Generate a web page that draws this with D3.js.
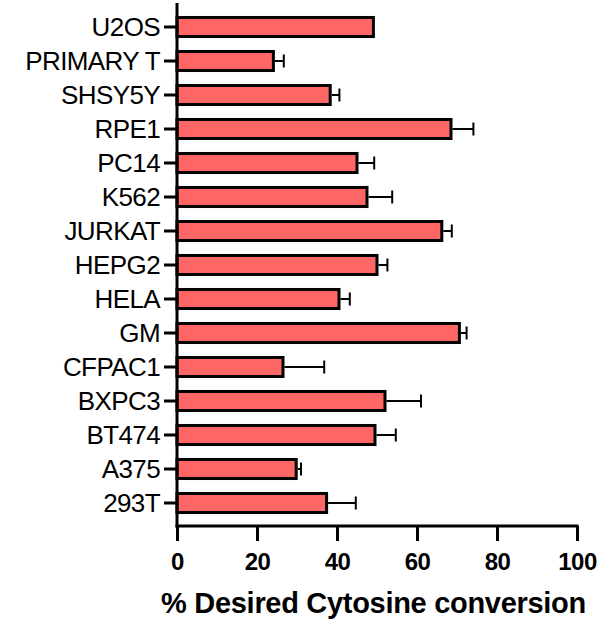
<!DOCTYPE html>
<html>
<head>
<meta charset="utf-8">
<script src="https://cdn.jsdelivr.net/npm/d3@7"></script>
<style>
  body { margin: 0; background: #fff; }
  svg { display: block; font-family: "Liberation Sans", Arial, sans-serif; }
</style>
</head>
<body>
<div id="chart"></div>
<script>
var cells = ["U2OS", "PRIMARY T", "SHSY5Y", "RPE1", "PC14", "K562", "JURKAT", "HEPG2",
             "HELA", "GM", "CFPAC1", "BXPC3", "BT474", "A375", "293T"];
var means = [49.1, 24.1, 38.3, 68.5, 45.0, 47.5, 66.2, 50.0, 40.5, 70.6, 26.5, 52.0, 49.5, 29.8, 37.4];
var errs  = [0, 2.6, 2.3, 5.6, 4.3, 6.3, 2.5, 2.6, 2.7, 1.8, 10.3, 9.0, 5.2, 1.2, 7.3];
var xTicks = [0, 20, 40, 60, 80, 100];
var xTitle = "% Desired Cytosine conversion";

function init() {
    var w = 600;
    var h = 623;
    var x0 = 177, x1 = 577;
    var axisY = 526;

    var data = cells.map(function(c, i) {
        return { cell: c, mean: means[i], err: errs[i] };
    });

    var xScale = d3.scaleLinear()
        .domain([0, 100])
        .range([x0, x1]);

    var yScale = d3.scaleBand()
        .domain(cells)
        .range([10, 520])
        .paddingInner(0.44)
        .paddingOuter(0.22);

    var svg = d3.select("#chart")
        .append("svg")
        .attr("width", w)
        .attr("height", h);

    // bars
    svg.selectAll("rect.bar")
        .data(data)
        .enter()
        .append("rect")
        .attr("class", "bar")
        .attr("x", xScale(0))
        .attr("y", function(d) { return yScale(d.cell); })
        .attr("width", function(d) { return xScale(d.mean) - xScale(0); })
        .attr("height", yScale.bandwidth())
        .attr("fill", "#ff6666")
        .attr("stroke", "#000")
        .attr("stroke-width", 3);

    // error bars
    var eb = svg.selectAll("g.err")
        .data(data.filter(function(d) { return d.err > 0; }))
        .enter()
        .append("g")
        .attr("class", "err")
        .attr("stroke", "#000")
        .attr("stroke-width", 2);

    eb.append("line")
        .attr("x1", function(d) { return xScale(d.mean) + 1.5; })
        .attr("x2", function(d) { return xScale(d.mean + d.err); })
        .attr("y1", function(d) { return yScale(d.cell) + yScale.bandwidth() / 2; })
        .attr("y2", function(d) { return yScale(d.cell) + yScale.bandwidth() / 2; });

    eb.append("line")
        .attr("x1", function(d) { return xScale(d.mean + d.err); })
        .attr("x2", function(d) { return xScale(d.mean + d.err); })
        .attr("y1", function(d) { return yScale(d.cell) + yScale.bandwidth() / 2 - 6.5; })
        .attr("y2", function(d) { return yScale(d.cell) + yScale.bandwidth() / 2 + 6.5; });

    // y axis
    var yAxis = d3.axisLeft(yScale)
        .tickSize(13)
        .tickPadding(4);

    var gy = svg.append("g")
        .attr("transform", "translate(" + x0 + ",0)")
        .call(yAxis);
    gy.select(".domain").remove();
    gy.selectAll(".tick line").attr("stroke", "#000").attr("stroke-width", 3);
    gy.selectAll(".tick text")
        .attr("fill", "#000")
        .style("font-size", "26px")
        .style("letter-spacing", "-0.6px")
        .attr("dy", "0.36em");

    svg.append("line")
        .attr("x1", x0).attr("x2", x0)
        .attr("y1", 3).attr("y2", axisY + 1.5)
        .attr("stroke", "#000")
        .attr("stroke-width", 3);

    // x axis
    var xAxis = d3.axisBottom(xScale)
        .tickValues(xTicks)
        .tickSize(15)
        .tickPadding(12);

    var gx = svg.append("g")
        .attr("transform", "translate(0," + axisY + ")")
        .call(xAxis);
    gx.select(".domain").remove();
    gx.selectAll(".tick line").attr("stroke", "#000").attr("stroke-width", 3);
    gx.selectAll(".tick text")
        .attr("fill", "#000")
        .style("font-size", "24px")
        .style("font-weight", "bold")
        .style("letter-spacing", "-0.5px");

    svg.append("line")
        .attr("x1", x0 - 1.5).attr("x2", x1 + 1.5)
        .attr("y1", axisY).attr("y2", axisY)
        .attr("stroke", "#000")
        .attr("stroke-width", 3);

    svg.append("text")
        .attr("x", 373.5)
        .attr("y", 613)
        .attr("text-anchor", "middle")
        .style("font-size", "29px")
        .style("font-weight", "bold")
        .style("letter-spacing", "-0.3px")
        .text(xTitle);
}

window.onload = init;
</script>
</body>
</html>
